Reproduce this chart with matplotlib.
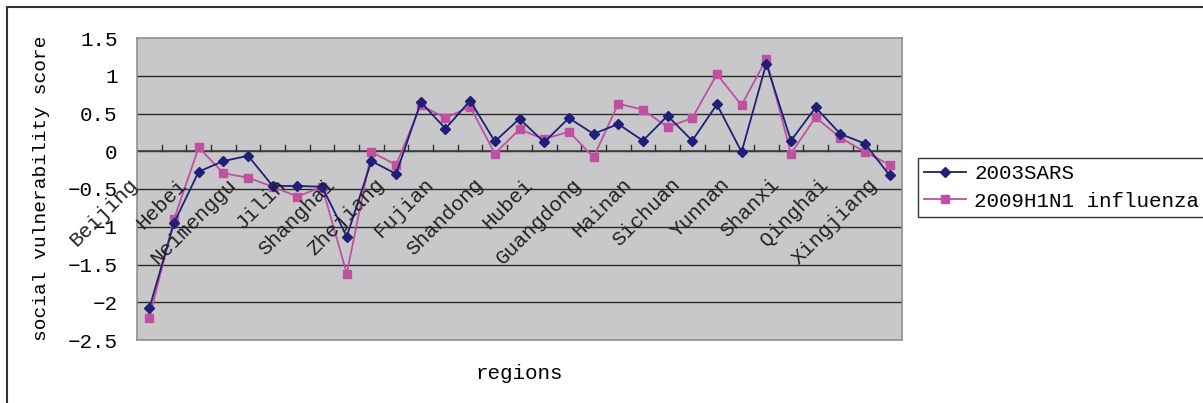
import numpy as np
import matplotlib.pyplot as plt
from matplotlib.patches import Rectangle

regions = ['Beijing', 'Tianjin', 'Hebei', 'Shaanxi', 'Neimenggu', 'Liaoning', 'Jilin',
           'Heilongjiang', 'Shanghai', 'Jiangsu', 'Zhejiang', 'Anhui', 'Fujian', 'Jiangxi',
           'Shandong', 'Henan', 'Hubei', 'Hunan', 'Guangdong', 'Guangxi', 'Hainan',
           'Chongqing', 'Sichuan', 'Guizhou', 'Yunnan', 'Xizang', 'Shanxi', 'Gansu',
           'Qinghai', 'Ningxia', 'Xingjiang']
sars = [-2.08, -0.95, -0.27, -0.13, -0.06, -0.46, -0.46, -0.47, -1.13, -0.13, -0.30,
        0.65, 0.30, 0.67, 0.13, 0.43, 0.12, 0.44, 0.23, 0.36, 0.14, 0.47, 0.14, 0.62,
        -0.01, 1.16, 0.14, 0.58, 0.23, 0.10, -0.32]
h1n1 = [-2.21, -0.90, 0.05, -0.29, -0.35, -0.47, -0.60, -0.47, -1.62, -0.01, -0.18,
        0.61, 0.44, 0.59, -0.03, 0.29, 0.16, 0.26, -0.08, 0.63, 0.55, 0.32, 0.44, 1.02,
        0.61, 1.22, -0.03, 0.45, 0.18, -0.01, -0.18]
yticks = [1.5, 1, 0.5, 0, -0.5, -1, -1.5, -2, -2.5]

plt.rcParams['font.family'] = ['Liberation Mono', 'DejaVu Sans']
fs = 15

fig = plt.figure(figsize=(12.03, 4.03), dpi=100)
ax = fig.add_axes([137/1203, 1-340/403, (902-137)/1203, (340-38)/403])
ax.set_facecolor('#c8c8ca')

x = np.arange(len(regions))
ax.plot(x, sars, color='#1f1f78', lw=1.3, marker='D', ms=5.5, label='2003SARS', zorder=4)
ax.plot(x, h1n1, color='#c050a0', lw=1.3, marker='s', ms=6, label='2009H1N1 influenza', zorder=3)

ax.set_xlim(-0.5, len(regions) - 0.5)
ax.set_ylim(-2.5, 1.5)
ax.set_yticks(yticks)
ax.set_yticklabels([f'{v:g}'.replace('-', '\u2212') for v in yticks], fontsize=fs)
ax.tick_params(axis='y', length=0, pad=14)
ax.set_xticks([])
for v in yticks[1:-1]:
    ax.axhline(v, color='#2a2a2a', lw=1, zorder=1)
for s in ax.spines.values():
    s.set_color('#909090')
    s.set_linewidth(1.2)

# category axis at zero, tick marks between categories
ax.axhline(0, color='#404040', lw=1.2, zorder=2)
for k in range(len(regions)):
    ax.plot([k + 0.5, k + 0.5], [0, 0.08], color='#303030', lw=1, zorder=2)

for i in range(0, len(regions), 2):
    ax.text(i - 0.6, -0.4, regions[i], rotation=45, rotation_mode='anchor',
            ha='right', va='center', fontsize=fs, color='#222222', zorder=5)

ax.set_xlabel('regions', fontsize=fs, labelpad=17)
fig.text(42/1203, 1-188/403, 'social vulnerability score', rotation=90,
         ha='center', va='center', fontsize=14)

fig.legend(loc='upper left', bbox_to_anchor=(918/1203, 1-158/403), fontsize=fs,
           frameon=True, fancybox=False, edgecolor='black', handlelength=2.0,
           borderpad=0.3, labelspacing=0.4, handletextpad=0.4, borderaxespad=0)

fig.patches.append(Rectangle((7/1203, -0.1), 1.2, 1-7/403+0.1, transform=fig.transFigure,
                             fill=False, edgecolor='#333333', lw=1.5))

fig.savefig('out.png', dpi=100)
